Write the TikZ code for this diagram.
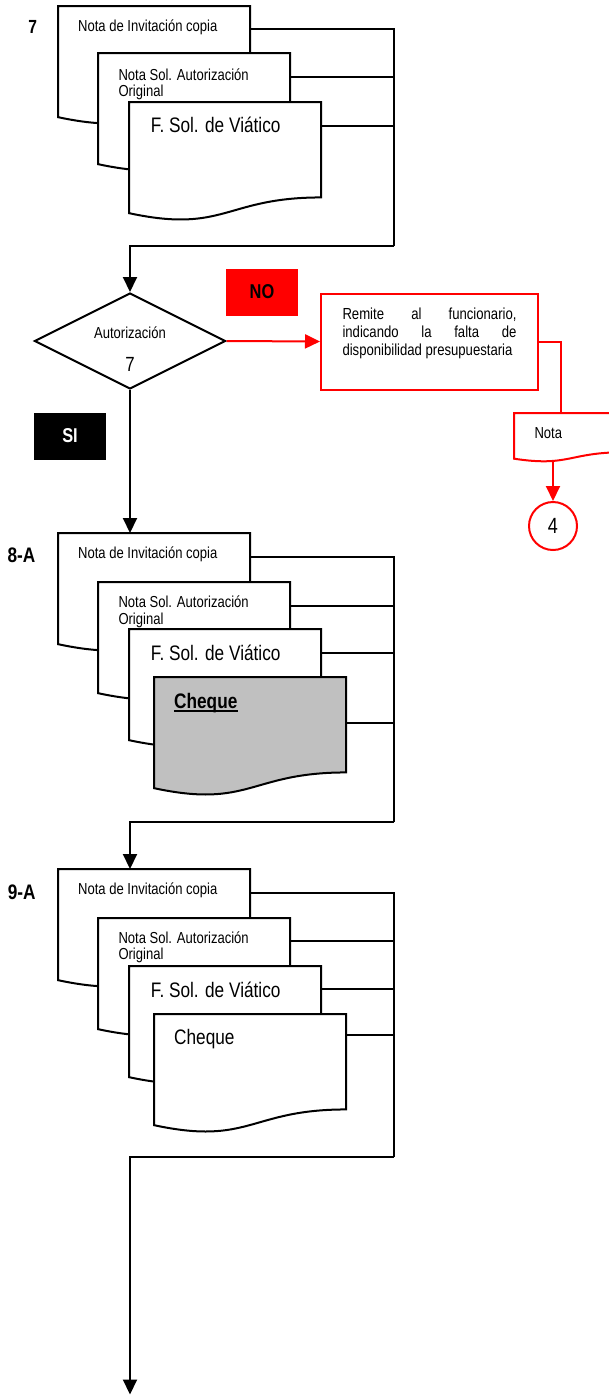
\documentclass[tikz,border=0pt]{standalone}
\usepackage{fontspec}
\setmainfont{Liberation Sans}
\newfontfamily\nf[FakeStretch=0.82]{Liberation Sans}
\usetikzlibrary{arrows.meta,shapes.geometric,calc}
\definecolor{chqgray}{HTML}{C0C0C0}
\newcommand{\docshape}[5]{%
  \draw[#1] (#2,#3) -- ({#2+#4},#3) -- ({#2+#4},{#3+0.802*#5})
    .. controls ({#2+0.5*#4},{#3+0.802*#5}) and ({#2+0.5*#4},{#3+1.1075*#5}) .. (#2,{#3+0.934*#5}) -- cycle;}
\tikzset{
  ln/.style={line width=2pt, draw=black},
  docb/.style={ln, fill=white},
  docg/.style={ln, fill=chqgray},
  docr/.style={line width=2pt, draw=red, fill=white},
  arr/.style={ln, -{Triangle[length=15pt,width=14pt]}},
  rline/.style={line width=2pt, draw=red},
  rarr/.style={rline, -{Triangle[length=15pt,width=14pt]}, red},
  small/.style={font=\nf\fontsize{15.9}{16.5}\selectfont, inner sep=0, anchor=base west, align=left},
  big/.style={font=\nf\fontsize{21}{24}\selectfont, inner sep=0, anchor=base west},
  lab/.style={font=\nf\bfseries\fontsize{21}{24}\selectfont, inner sep=0, anchor=base},
}
\begin{document}
\begin{tikzpicture}[x=1pt,y=-1pt]
\useasboundingbox (0,0) rectangle (608,1395);

% ---------- Group 7 ----------
\docshape{docb}{58}{6}{192}{119}
\docshape{docb}{98}{53}{192}{119}
\docshape{docb}{129}{102}{192}{119}
\node[lab, font=\nf\bfseries\fontsize{19}{22}\selectfont] (l7) at (32.7,33.3) {7};
\node[small] (t7a) at (78,31.2) {Nota de Invitación copia};
\node[small] (t7b) at (118.3,96.8) {Nota Sol. Autorización\\Original};
\node[big] (t7c) at (150.7,132.7) {F. Sol. de Viático};
\coordinate (g7a) at (250,29);
\coordinate (g7b) at (290,77);
\coordinate (g7c) at (321,126);
\coordinate (g7bus) at (394,246);
\draw[ln] (g7a) -| (g7bus);
\draw[ln] (g7b) -- (g7b -| g7bus);
\draw[ln] (g7c) -- (g7c -| g7bus);

% ---------- Decision ----------
\node[diamond, ln, fill=white, minimum width=191pt, minimum height=96pt, inner sep=0] (dia) at (130,341) {};
\node[font=\nf\fontsize{15.9}{16.5}\selectfont, inner sep=0, anchor=base] (aut) at (130,338.3) {Autorización};
\node[font=\nf\fontsize{20.5}{22}\selectfont, inner sep=0, anchor=base] (aut7) at (130,371.7) {7};
\draw[arr] (g7bus) -| (dia.north);

\node[fill=red, minimum width=72pt, minimum height=47pt, inner sep=0,
      font=\nf\bfseries\fontsize{20}{22}\selectfont] (no) at (262,292) {NO};
\node[fill=black, text=white, minimum width=72pt, minimum height=47pt, inner sep=0,
      font=\nf\bfseries\fontsize{20}{22}\selectfont] (si) at (70,436) {SI};

\node[draw=red, line width=2pt, minimum width=217pt, minimum height=96pt, inner sep=0] (rem) at (429.5,341.5) {};
\node[font=\nf\fontsize{16}{18.3}\selectfont, inner sep=0, anchor=base west, align=left] (remt) at (342.3,355.9)
  {\makebox[174pt][s]{Remite al funcionario,}\\\makebox[174pt][s]{indicando la falta de}\\disponibilidad presupuestaria};
\draw[rarr] (dia.east) -- (rem.west);

\docshape{docr}{514}{413}{110}{48.9}
\node[small] (nota) at (534.3,438.3) {Nota};
\coordinate (notatop) at (561,413);
\coordinate (notabot) at (553,461);
\draw[rline] (rem.east) -| (notatop);
\node[circle, draw=red, line width=2pt, minimum size=48pt, inner sep=0,
      font=\nf\fontsize{22}{24}\selectfont] (c4) at (553,526) {4};
\draw[rarr] (notabot) -- (c4.north);

% ---------- Group 8-A ----------
\coordinate (g8top) at (130,533);
\draw[arr] (dia.south) -- (g8top);
\docshape{docb}{58}{533}{192}{119}
\docshape{docb}{98}{582}{192}{119}
\docshape{docb}{129}{629}{192}{119}
\docshape{docg}{154}{677}{192}{119}
\node[lab] (l8) at (21.5,562.7) {8-A};
\node[small] (t8a) at (78,558.8) {Nota de Invitación copia};
\node[small] (t8b) at (118.3,624) {Nota Sol. Autorización\\Original};
\node[big] (t8c) at (150.7,660.3) {F. Sol. de Viático};
\node[big, font=\nf\bfseries\fontsize{21}{24}\selectfont] (t8d) at (174,708.3) {Cheque};
\draw[line width=1.5pt] ([yshift=-2.5pt]t8d.base west) -- ([yshift=-2.5pt]t8d.base east);
\coordinate (g8a) at (250,557);
\coordinate (g8b) at (290,606);
\coordinate (g8c) at (321,653);
\coordinate (g8d) at (346,723);
\coordinate (g8bus) at (394,822);
\draw[ln] (g8a) -| (g8bus);
\draw[ln] (g8b) -- (g8b -| g8bus);
\draw[ln] (g8c) -- (g8c -| g8bus);
\draw[ln] (g8d) -- (g8d -| g8bus);

% ---------- Group 9-A ----------
\coordinate (g9top) at (130,869);
\draw[arr] (g8bus) -| (g9top);
\docshape{docb}{58}{869}{192}{119}
\docshape{docb}{98}{918}{192}{119}
\docshape{docb}{129}{966}{192}{119}
\docshape{docb}{154}{1014}{192}{119}
\node[lab] (l9) at (21.7,899) {9-A};
\node[small] (t9a) at (78,894.8) {Nota de Invitación copia};
\node[small] (t9b) at (118.3,959.7) {Nota Sol. Autorización\\Original};
\node[big] (t9c) at (150.7,997) {F. Sol. de Viático};
\node[big] (t9d) at (174,1044.3) {Cheque};
\coordinate (g9a) at (250,893);
\coordinate (g9b) at (290,941);
\coordinate (g9c) at (321,989);
\coordinate (g9d) at (346,1035);
\coordinate (g9bus) at (394,1157);
\draw[ln] (g9a) -| (g9bus);
\draw[ln] (g9b) -- (g9b -| g9bus);
\draw[ln] (g9c) -- (g9c -| g9bus);
\draw[ln] (g9d) -- (g9d -| g9bus);
\coordinate (endp) at (130,1394.5);
\draw[arr] (g9bus) -| (endp);
\end{tikzpicture}
\end{document}
